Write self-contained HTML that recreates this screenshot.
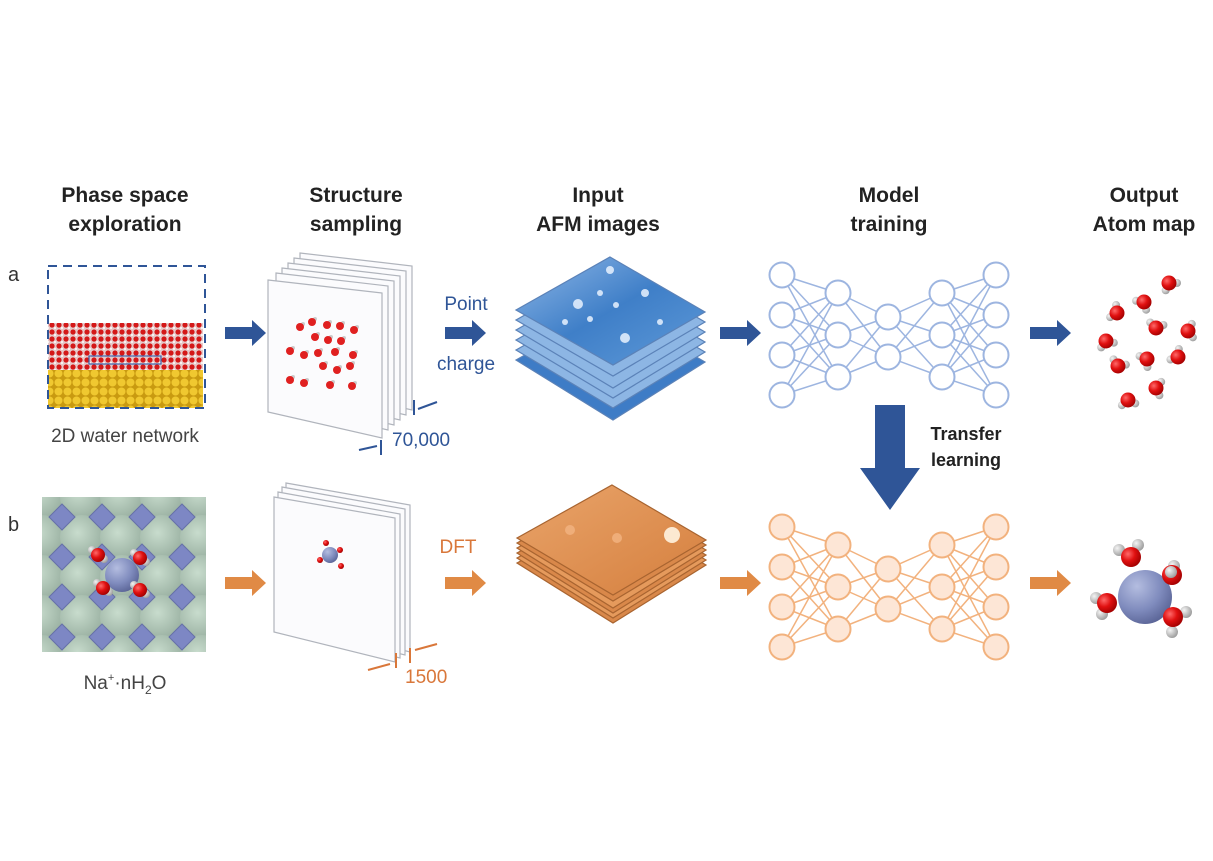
<!DOCTYPE html>
<html><head><meta charset="utf-8"><style>
html,body{margin:0;padding:0;background:#fff;}
svg{display:block;font-family:"Liberation Sans",sans-serif;}
</style></head><body>
<svg width="1213" height="861" viewBox="0 0 1213 861" xmlns="http://www.w3.org/2000/svg">
<defs>
<radialGradient id="rO" cx="0.35" cy="0.35" r="0.7"><stop offset="0" stop-color="#ff6a6a"/><stop offset="0.5" stop-color="#e01010"/><stop offset="1" stop-color="#a00000"/></radialGradient>
<radialGradient id="rH" cx="0.35" cy="0.35" r="0.7"><stop offset="0" stop-color="#f4f4f4"/><stop offset="1" stop-color="#9a9a9a"/></radialGradient>
<radialGradient id="rNa" cx="0.35" cy="0.3" r="0.75"><stop offset="0" stop-color="#b4bde0"/><stop offset="0.6" stop-color="#7f8bbd"/><stop offset="1" stop-color="#5a6496"/></radialGradient>
<radialGradient id="rG" cx="0.4" cy="0.4" r="0.7"><stop offset="0" stop-color="#c8dccd"/><stop offset="1" stop-color="#94ab9c"/></radialGradient>
<linearGradient id="bl" x1="0" y1="0" x2="1" y2="1"><stop offset="0" stop-color="#8fb7e6"/><stop offset="0.5" stop-color="#3f7fc8"/><stop offset="1" stop-color="#5f9ad8"/></linearGradient>
<linearGradient id="or" x1="0" y1="0" x2="1" y2="1"><stop offset="0" stop-color="#e9a46a"/><stop offset="1" stop-color="#d57f3e"/></linearGradient>
<pattern id="gold" width="9" height="9" patternUnits="userSpaceOnUse"><rect width="9" height="9" fill="#c99a10"/><circle cx="4.5" cy="4.5" r="4" fill="#f0c830"/></pattern>
<pattern id="wat" width="7" height="7" patternUnits="userSpaceOnUse"><rect width="7" height="7" fill="#e6c8c8"/><circle cx="3" cy="3" r="2.6" fill="#d41818"/><circle cx="6" cy="6" r="1" fill="#fff"/></pattern>
<clipPath id="tileclip"><rect x="42" y="497" width="164" height="155"/></clipPath>
</defs>

<g font-weight="bold" font-size="21" fill="#222" text-anchor="middle">
<text x="125" y="202">Phase space</text><text x="125" y="231">exploration</text>
<text x="356" y="202">Structure</text><text x="356" y="231">sampling</text>
<text x="598" y="202">Input</text><text x="598" y="231">AFM images</text>
<text x="889" y="202">Model</text><text x="889" y="231">training</text>
<text x="1144" y="202">Output</text><text x="1144" y="231">Atom map</text>
</g>
<text x="8" y="281" font-size="20" fill="#333">a</text>
<text x="8" y="531" font-size="20" fill="#333">b</text>

<rect x="48" y="323" width="155" height="50" fill="url(#wat)"/>
<rect x="48" y="370" width="155" height="38" fill="url(#gold)"/>
<rect x="89" y="356" width="72" height="8" fill="none" stroke="#3a5da8" stroke-width="1.2"/>
<rect x="48" y="266" width="157" height="142" fill="none" stroke="#2f5597" stroke-width="2" stroke-dasharray="9,6"/>
<text x="125" y="442" font-size="19" fill="#444" text-anchor="middle">2D water network</text>

<g clip-path="url(#tileclip)">
<rect x="42" y="497" width="164" height="155" fill="#7e9084"/>
<g id="tiles"></g>
</g>
<text x="125" y="689" font-size="19" fill="#444" text-anchor="middle">Na<tspan dy="-8" font-size="11">+</tspan><tspan dy="8">·nH</tspan><tspan dy="5" font-size="12">2</tspan><tspan dy="-5">O</tspan></text>

<g fill="#2f5597">
<polygon points="225,327 252,327 252,320 266,333 252,346 252,339 225,339"/>
<polygon points="445,327 472,327 472,320 486,333 472,346 472,339 445,339"/>
<polygon points="720,327 747,327 747,320 761,333 747,346 747,339 720,339"/>
<polygon points="1030,327 1057,327 1057,320 1071,333 1057,346 1057,339 1030,339"/>
<polygon points="875,405 905,405 905,468 920,468 890,510 860,468 875,468"/>
</g>
<g fill="#e08a45">
<polygon points="225,577 252,577 252,570 266,583 252,596 252,589 225,589"/>
<polygon points="445,577 472,577 472,570 486,583 472,596 472,589 445,589"/>
<polygon points="720,577 747,577 747,570 761,583 747,596 747,589 720,589"/>
<polygon points="1030,577 1057,577 1057,570 1071,583 1057,596 1057,589 1030,589"/>
</g>
<text x="466" y="310" font-size="19" fill="#2f5597" text-anchor="middle">Point</text>
<text x="466" y="370" font-size="19" fill="#2f5597" text-anchor="middle">charge</text>
<text x="458" y="553" font-size="19" fill="#d9773a" text-anchor="middle">DFT</text>
<text x="966" y="440" font-size="18" font-weight="bold" fill="#222" text-anchor="middle">Transfer</text>
<text x="966" y="466" font-size="18" font-weight="bold" fill="#222" text-anchor="middle">learning</text>

<g stroke="#b0b4bc" stroke-width="1.2" fill="#fbfbfd">
<polygon points="300,253 412,266 412,410 300,384"/>
<polygon points="294,258 406,271 406,415 294,389"/>
<polygon points="288,263 400,276 400,420 288,394"/>
<polygon points="282,268 394,281 394,425 282,399"/>
<polygon points="276,273 388,286 388,430 276,404"/>
<polygon points="268,280 382,293 382,438 268,412"/>
</g>
<g id="sampwat"></g>
<g stroke="#2f5597" stroke-width="2" fill="none">
<line x1="381" y1="440" x2="381" y2="455"/><line x1="359" y1="450" x2="377" y2="446"/>
<line x1="414" y1="400" x2="414" y2="415"/><line x1="437" y1="402" x2="418" y2="409"/>
</g>
<text x="392" y="446" font-size="19" fill="#2f5597">70,000</text>

<g stroke="#b0b4bc" stroke-width="1.2" fill="#fbfbfd">
<polygon points="286,483 410,505 410,652 286,620"/>
<polygon points="282,487 405,509 405,655 282,624"/>
<polygon points="278,492 400,514 400,658 278,628"/>
<polygon points="274,497 395,518 395,662 274,632"/>
</g>
<g stroke="#d9773a" stroke-width="2" fill="none">
<line x1="396" y1="653" x2="396" y2="668"/><line x1="368" y1="670" x2="390" y2="664"/>
<line x1="410" y1="648" x2="410" y2="663"/><line x1="437" y1="644" x2="415" y2="650"/>
</g>
<text x="405" y="683" font-size="19" fill="#d9773a">1500</text>
<circle cx="330" cy="555" r="8" fill="url(#rNa)"/>
<g fill="url(#rO)"><circle cx="326" cy="543" r="3"/><circle cx="340" cy="550" r="3"/><circle cx="320" cy="560" r="3"/><circle cx="341" cy="566" r="3"/></g>

<g stroke="#5b82b8" stroke-width="1.2">
<polygon points="610,307 705,362 613,420 516,360" fill="#3e7cc6"/>
<polygon points="610,297 705,352 613,408 516,350" fill="#8db6e4"/>
<polygon points="610,287 705,342 613,398 516,340" fill="#8db6e4"/>
<polygon points="610,277 705,332 613,388 516,330" fill="#8db6e4"/>
<polygon points="610,267 705,322 613,376 516,320" fill="#8db6e4"/>
<polygon points="610,257 705,312 613,365 516,310" fill="url(#bl)"/>
</g>
<g fill="#e8f2ff" opacity="0.85">
<circle cx="610" cy="270" r="4"/><circle cx="578" cy="304" r="5"/><circle cx="600" cy="293" r="3"/><circle cx="645" cy="293" r="4"/><circle cx="616" cy="305" r="3"/><circle cx="590" cy="319" r="3"/><circle cx="625" cy="338" r="5"/><circle cx="565" cy="322" r="3"/><circle cx="660" cy="322" r="3"/>
</g>
<g stroke="#a86430" stroke-width="1.2">
<polygon points="612,510 706,565 613,623 517,563" fill="#d9884a"/>
<polygon points="612,505 706,560 613,618 517,558" fill="#e59a5c"/>
<polygon points="612,500 706,555 613,613 517,553" fill="#d9884a"/>
<polygon points="612,495 706,550 613,608 517,548" fill="#e59a5c"/>
<polygon points="612,490 706,545 613,601 517,543" fill="#d9884a"/>
<polygon points="612,485 706,540 613,595 517,538" fill="url(#or)"/>
</g>
<circle cx="672" cy="535" r="8" fill="#fff3e0" opacity="0.9"/>
<circle cx="570" cy="530" r="5" fill="#f2b482" opacity="0.8"/><circle cx="617" cy="538" r="5" fill="#f2b482" opacity="0.8"/>

<g id="nets"></g>
<g id="outa"></g>
<g>
<circle cx="1119" cy="550" r="6" fill="url(#rH)"/><circle cx="1138" cy="545" r="6" fill="url(#rH)"/>
<circle cx="1131" cy="557" r="10" fill="url(#rO)"/>
<circle cx="1096" cy="598" r="6" fill="url(#rH)"/><circle cx="1102" cy="614" r="6" fill="url(#rH)"/>
<circle cx="1107" cy="603" r="10" fill="url(#rO)"/>
<circle cx="1145" cy="597" r="27" fill="url(#rNa)"/>
<circle cx="1174" cy="566" r="6" fill="url(#rH)"/><circle cx="1172" cy="575" r="10" fill="url(#rO)"/><circle cx="1171" cy="572" r="6" fill="url(#rH)"/>
<circle cx="1186" cy="612" r="6" fill="url(#rH)"/><circle cx="1172" cy="632" r="6" fill="url(#rH)"/>
<circle cx="1173" cy="617" r="10" fill="url(#rO)"/>
</g>
</svg>
<script>
const NS="http://www.w3.org/2000/svg";
function el(p,t,a){const e=document.createElementNS(NS,t);for(const k in a)e.setAttribute(k,a[k]);p.appendChild(e);return e;}
const tg=document.getElementById('tiles');
for(let i=-1;i<6;i++)for(let j=-1;j<6;j++){
 el(tg,'circle',{cx:42+i*40,cy:497+j*40,r:22,fill:'url(#rG)'});
}
for(let i=-1;i<6;i++)for(let j=-1;j<6;j++){
 const cx=42+i*40+20,cy=497+j*40+20;
 el(tg,'polygon',{points:`${cx},${cy-13} ${cx+13},${cy} ${cx},${cy+13} ${cx-13},${cy}`,fill:'#7d87c4',stroke:'#6670a8'});
}
el(tg,'circle',{cx:122,cy:575,r:17,fill:'url(#rNa)'});
[[98,555],[140,558],[103,588],[140,590]].forEach(p=>{
 el(tg,'circle',{cx:p[0]-6,cy:p[1]-5,r:4,fill:'url(#rH)'});el(tg,'circle',{cx:p[0]+6,cy:p[1]+4,r:4,fill:'url(#rH)'});
 el(tg,'circle',{cx:p[0],cy:p[1],r:7,fill:'url(#rO)'});});
const sw=document.getElementById('sampwat');
[[300,327],[312,322],[327,325],[340,326],[354,330],[315,337],[328,340],[341,341],[290,351],[304,355],[318,353],[335,352],[353,355],[323,366],[337,370],[350,366],[290,380],[304,383],[330,385],[352,386]].forEach(p=>{
 el(sw,'circle',{cx:p[0]+3,cy:p[1]-3,r:2,fill:'#ccc'});el(sw,'circle',{cx:p[0],cy:p[1],r:4,fill:'#e02020'});});
const ng=document.getElementById('nets');
const cols=[782,838,888,942,996];
const rows=[[275,315,355,395],[293,335,377],[317,357],[293,335,377],[275,315,355,395]];
function net(dy,stroke,fill){
 for(let c=0;c<4;c++)for(const a of rows[c])for(const b of rows[c+1])
  el(ng,'line',{x1:cols[c],y1:a+dy,x2:cols[c+1],y2:b+dy,stroke:stroke,'stroke-width':1.5});
 for(let c=0;c<5;c++)for(const a of rows[c])el(ng,'circle',{cx:cols[c],cy:a+dy,r:12.5,fill:fill,stroke:stroke,'stroke-width':2});
}
net(0,'#9db5e0','#fff');
net(252,'#f2b27e','#fde6d6');
const oa=document.getElementById('outa');
[[1169,283],[1144,302],[1117,313],[1156,328],[1188,331],[1106,341],[1147,359],[1178,357],[1118,366],[1156,388],[1128,400]].forEach((p,i)=>{
 const ang=i*1.3;
 el(oa,'circle',{cx:p[0]+8*Math.cos(ang),cy:p[1]+8*Math.sin(ang),r:4,fill:'url(#rH)'});
 el(oa,'circle',{cx:p[0]+8*Math.cos(ang+2),cy:p[1]+8*Math.sin(ang+2),r:4,fill:'url(#rH)'});
 el(oa,'circle',{cx:p[0],cy:p[1],r:7.5,fill:'url(#rO)'});});
</script>
</body></html>
